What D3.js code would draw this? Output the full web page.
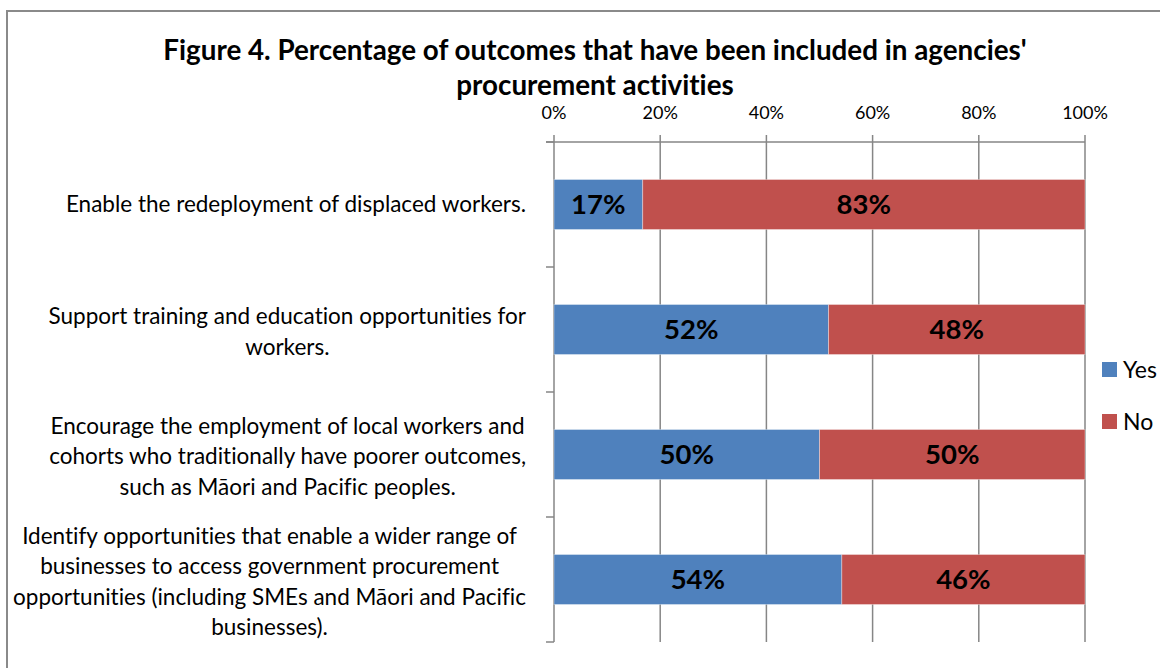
<!DOCTYPE html>
<html>
<head>
<meta charset="utf-8">
<script src="https://cdn.jsdelivr.net/npm/d3@7/dist/d3.min.js"></script>
<style>
  html, body { margin: 0; padding: 0; background: #fff; }
  svg { display: block; }
  text { font-family: Lato, "Open Sans", sans-serif; font-variant-ligatures: none; font-feature-settings: "liga" 0, "clig" 0; }
</style>
</head>
<body>
<svg id="chart" width="1160" height="668"></svg>
<script>
// ---- data ----
const titleLines = ["Figure 4. Percentage of outcomes that have been included in agencies'", "procurement activities"];
const categories = [
  ["Enable the redeployment of displaced workers."],
  ["Support training and education opportunities for", "workers."],
  ["Encourage the employment of local workers and", "cohorts who traditionally have poorer outcomes,", "such as Māori and Pacific peoples."],
  ["Identify opportunities that enable a wider range of", "businesses to access government procurement", "opportunities (including SMEs and Māori and Pacific", "businesses)."]
];
const seriesNames = ["Yes", "No"];
const yesValues = [16.7, 51.7, 50.0, 54.2];
const noValues = [83.3, 48.3, 50.0, 45.8];
const tickValues = [0, 20, 40, 60, 80, 100];
const colors = ["#4F81BD", "#C0504D"];

// ---- layout ----
const svg = d3.select("#chart");
const plot = { left: 554, right: 1085, top: 142, bottom: 642 };

svg.append("rect")
  .attr("x", 7).attr("y", 11).attr("width", 1170).attr("height", 700)
  .attr("fill", "none").attr("stroke", "#8a8a8a").attr("stroke-width", 2);

const x = d3.scaleLinear().domain([0, 100]).range([plot.left, plot.right]);
const y = d3.scaleBand().domain(d3.range(categories.length)).range([plot.top, plot.bottom]).paddingInner(0.6).paddingOuter(0.3);
const yBand = d3.scaleBand().domain(d3.range(categories.length)).range([plot.top, plot.bottom]);

// title
svg.append("g").selectAll("text").data(titleLines).join("text")
  .attr("x", 595).attr("y", (d, i) => 60 + i * 35)
  .attr("text-anchor", "middle")
  .attr("font-size", 27.8).attr("font-weight", "bold").attr("fill", "#000")
  .text(d => d);

// gridlines (vertical), extending above top axis as tick marks
const gridColor = "#868686";
svg.append("g").selectAll("line").data(tickValues).join("line")
  .attr("x1", d => x(d)).attr("x2", d => x(d))
  .attr("y1", plot.top - 7).attr("y2", plot.bottom)
  .attr("stroke", gridColor).attr("stroke-width", 1.5);

// top axis line
svg.append("line")
  .attr("x1", plot.left - 8).attr("x2", plot.right)
  .attr("y1", plot.top).attr("y2", plot.top)
  .attr("stroke", gridColor).attr("stroke-width", 1.5);

// y-axis ticks at band boundaries
const yTicks = d3.range(categories.length + 1).map(i => i === categories.length ? plot.bottom : yBand(i));
svg.append("g").selectAll("line").data(yTicks).join("line")
  .attr("x1", plot.left - 8).attr("x2", plot.left)
  .attr("y1", d => d).attr("y2", d => d)
  .attr("stroke", gridColor).attr("stroke-width", 1.5);

// x tick labels
svg.append("g").selectAll("text").data(tickValues).join("text")
  .attr("x", d => x(d)).attr("y", 119)
  .attr("text-anchor", "middle").attr("font-size", 18).attr("fill", "#000")
  .text(d => d + "%");

// stacked bars
const rows = categories.map((c, i) => ({ i, Yes: yesValues[i], No: noValues[i] }));
const stack = d3.stack().keys(seriesNames)(rows);
const fmt = d => Math.round(d) + "%";

const layers = svg.append("g").selectAll("g").data(stack).join("g")
  .attr("fill", (d, k) => colors[k]);
layers.selectAll("rect").data(d => d).join("rect")
  .attr("x", d => x(d[0])).attr("width", d => x(d[1]) - x(d[0]))
  .attr("y", d => y(d.data.i)).attr("height", y.bandwidth())
  .attr("stroke", "rgba(255,255,255,0.35)").attr("stroke-width", 1);

layers.selectAll("text").data(d => d).join("text")
  .attr("x", d => (x(d[0]) + x(d[1])) / 2)
  .attr("y", d => y(d.data.i) + y.bandwidth() / 2)
  .attr("dy", "0.36em")
  .attr("text-anchor", "middle").attr("font-size", 27.5).attr("font-weight", "bold").attr("fill", "#000")
  .text(d => fmt(d[1] - d[0]));

// category labels (multi-line, centred block, right-aligned to axis)
const lineH = 30.5;
const labelRight = 526;
const lab = svg.append("g");
categories.forEach((lines, i) => {
  const g = lab.append("g");
  const cy = yBand(i) + yBand.bandwidth() / 2 + (lines.length > 1 ? 2 : 0);
  const texts = g.selectAll("text").data(lines).join("text")
    .attr("y", (d, j) => cy + (j - (lines.length - 1) / 2) * lineH)
    .attr("dy", "0.35em")
    .attr("text-anchor", "middle").attr("font-size", 22.5).attr("fill", "#000")
    .text(d => d);
  let maxW = 0;
  texts.each(function () { maxW = Math.max(maxW, this.getComputedTextLength()); });
  texts.attr("x", labelRight - maxW / 2);
});

// legend
const legend = svg.append("g").selectAll("g").data(seriesNames).join("g")
  .attr("transform", (d, i) => `translate(1102, ${362 + i * 52})`);
legend.append("rect").attr("width", 15).attr("height", 15).attr("fill", (d, i) => colors[i]);
legend.append("text").attr("x", 21).attr("y", 7.5).attr("dy", "0.36em")
  .attr("font-size", 23).attr("fill", "#000").text(d => d);
</script>
</body>
</html>
